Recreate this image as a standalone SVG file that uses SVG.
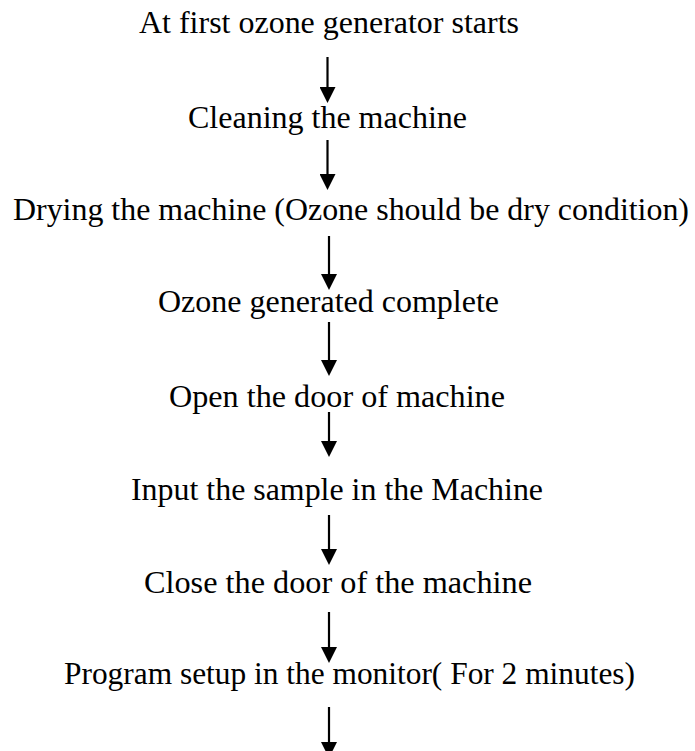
<svg xmlns="http://www.w3.org/2000/svg" width="695" height="751" viewBox="0 0 695 751">
<style>
.t{font-family:"Liberation Serif","Times New Roman",Times,serif;font-size:31px;fill:#000}
.c{stroke:#000;stroke-width:2.2;fill:none}
</style>
<defs>
<marker id="ah" viewBox="0 0 16 16" refX="6" refY="8" markerWidth="16" markerHeight="16" markerUnits="userSpaceOnUse" orient="auto">
<path d="M0,0 L16,8 L0,16 z" fill="#000"/>
</marker>
</defs>
<rect width="695" height="751" fill="#fff"/>
<g id="n1"><text class="t" x="139" y="33" textLength="380" lengthAdjust="spacingAndGlyphs">At first ozone generator starts</text></g>
<g id="n2"><text class="t" x="188" y="128" textLength="279" lengthAdjust="spacingAndGlyphs">Cleaning the machine</text></g>
<g id="n3"><text class="t" x="13" y="220" textLength="676" lengthAdjust="spacingAndGlyphs">Drying the machine (Ozone should be dry condition)</text></g>
<g id="n4"><text class="t" x="158" y="312" textLength="341" lengthAdjust="spacingAndGlyphs">Ozone generated complete</text></g>
<g id="n5"><text class="t" x="169" y="407" textLength="336" lengthAdjust="spacingAndGlyphs">Open the door of machine</text></g>
<g id="n6"><text class="t" x="131" y="500" textLength="412" lengthAdjust="spacingAndGlyphs">Input the sample in the Machine</text></g>
<g id="n7"><text class="t" x="144" y="593" textLength="388" lengthAdjust="spacingAndGlyphs">Close the door of the machine</text></g>
<g id="n8"><text class="t" x="64" y="684" textLength="571" lengthAdjust="spacingAndGlyphs">Program setup in the monitor( For 2 minutes)</text></g>
<g id="connectors">
<line class="c" x1="327.5" y1="57" x2="327.5" y2="93" marker-end="url(#ah)"/>
<line class="c" x1="327.5" y1="140" x2="327.5" y2="180" marker-end="url(#ah)"/>
<line class="c" x1="329" y1="236" x2="329" y2="280" marker-end="url(#ah)"/>
<line class="c" x1="329" y1="322" x2="329" y2="366" marker-end="url(#ah)"/>
<line class="c" x1="329" y1="412" x2="329" y2="447" marker-end="url(#ah)"/>
<line class="c" x1="329" y1="515" x2="329" y2="555" marker-end="url(#ah)"/>
<line class="c" x1="329" y1="612" x2="329" y2="653" marker-end="url(#ah)"/>
<line class="c" x1="329" y1="707" x2="329" y2="748" marker-end="url(#ah)"/>
</g>
</svg>
